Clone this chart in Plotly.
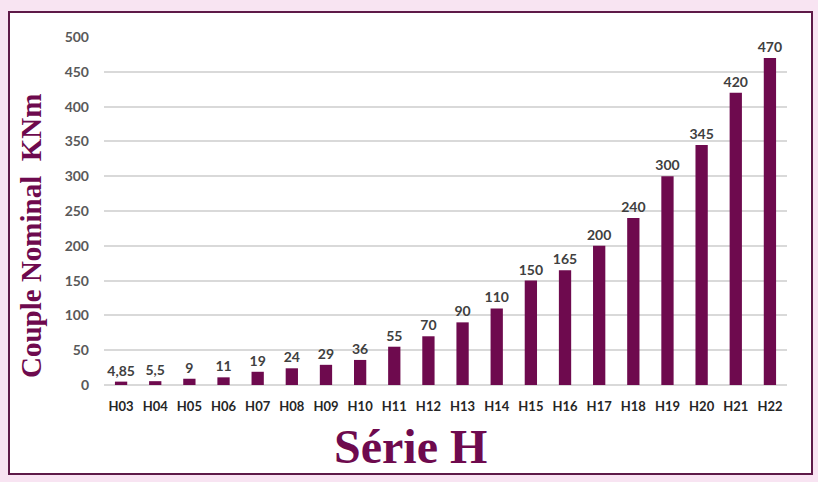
import plotly.graph_objects as go

categories = ["H03","H04","H05","H06","H07","H08","H09","H10","H11","H12",
              "H13","H14","H15","H16","H17","H18","H19","H20","H21","H22"]
values = [4.85, 5.5, 9, 11, 19, 24, 29, 36, 55, 70,
          90, 110, 150, 165, 200, 240, 300, 345, 420, 470]
value_labels = ["4,85","5,5","9","11","19","24","29","36","55","70",
                "90","110","150","165","200","240","300","345","420","470"]
y_ticks = [0, 50, 100, 150, 200, 250, 300, 350, 400, 450, 500]

W, H = 823, 487
ML, MR, MT, MB = 104, 36, 37, 102
PW, PH = W - ML - MR, H - MT - MB

def px(x):
    return (x - ML) / PW

def py(y):
    return (H - MB - y) / PH

fig = go.Figure(go.Bar(
    x=categories, y=values, text=value_labels, textposition="outside",
    constraintext="none",
    marker=dict(color="#6e0a4e", line=dict(width=0)),
    width=0.36, cliponaxis=False,
    textfont=dict(family="Lato", size=14, color="#404040", weight="bold"),
))

fig.update_layout(
    width=W, height=H,
    margin=dict(l=ML, r=MR, t=MT, b=MB),
    paper_bgcolor="white", plot_bgcolor="rgba(0,0,0,0)",
    showlegend=False,
    shapes=[
        dict(type="rect", xref="paper", yref="paper", layer="below",
             x0=px(0), x1=px(818), y0=py(0), y1=py(482),
             fillcolor="#f8e4f2", line=dict(width=0)),
        dict(type="rect", xref="paper", yref="paper", layer="below",
             x0=px(9), x1=px(812), y0=py(12), y1=py(474),
             fillcolor="white", line=dict(color="#5e1a48", width=2)),
    ],
    annotations=[
        dict(text="Couple Nominal  KNm", xref="paper", yref="paper",
             x=px(31), y=py(236), xanchor="center", yanchor="middle",
             textangle=-90, showarrow=False,
             font=dict(family="Liberation Serif", size=29, color="#6e0a4e", weight="bold")),
        dict(text="Série H", xref="paper", yref="paper",
             x=px(410), y=py(446), xanchor="center", yanchor="middle",
             showarrow=False,
             font=dict(family="Liberation Serif", size=48, color="#6e0a4e", weight="bold")),
    ],
)

fig.update_xaxes(showgrid=False, showline=False, ticks="", tickson="labels",
                 ticklabelstandoff=12,
                 tickfont=dict(family="Lato", size=13, color="#262626", weight="bold"),
                 range=[-0.5, 19.5])
fig.update_yaxes(range=[0, 500], tickvals=y_ticks, showgrid=True,
                 gridcolor="#d9d9d9", gridwidth=1.5, zeroline=True,
                 zerolinecolor="#d9d9d9", zerolinewidth=1.5,
                 showline=False, ticks="", ticklabelstandoff=14,
                 tickfont=dict(family="Lato", size=14, color="#595959", weight="bold"))

fig.write_html("out.html", config={"displayModeBar": False},
               post_script="document.body.style.margin='0';")
